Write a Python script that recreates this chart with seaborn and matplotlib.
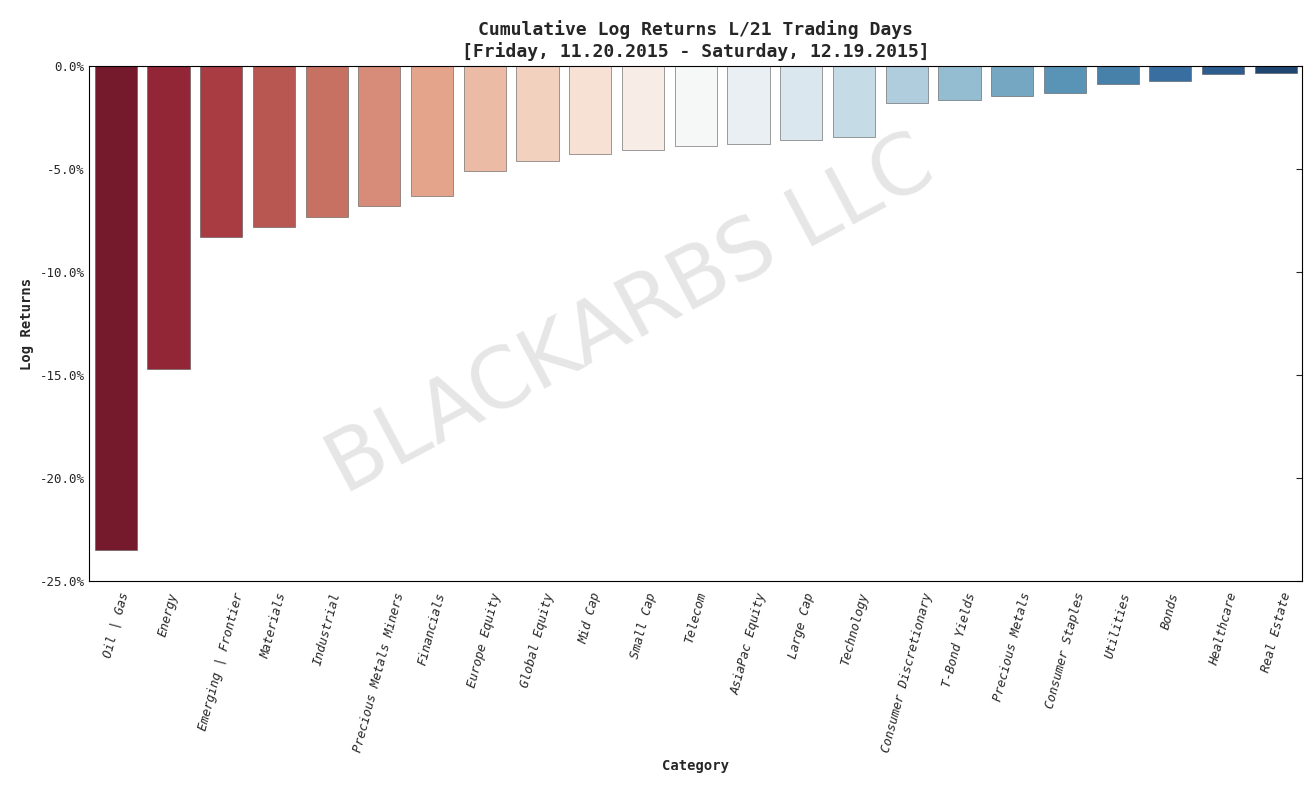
import numpy as np
import pandas as pd
import matplotlib
matplotlib.use('Agg')
import matplotlib.pyplot as plt
import seaborn as sns
from matplotlib.ticker import FuncFormatter

categories = ['Oil | Gas', 'Energy', 'Emerging | Frontier', 'Materials', 'Industrial',
              'Precious Metals Miners', 'Financials', 'Europe Equity', 'Global Equity',
              'Mid Cap', 'Small Cap', 'Telecom', 'AsiaPac Equity', 'Large Cap', 'Technology',
              'Consumer Discretionary', 'T-Bond Yields', 'Precious Metals', 'Consumer Staples',
              'Utilities', 'Bonds', 'Healthcare', 'Real Estate']
returns = [-0.235, -0.147, -0.083, -0.078, -0.0733, -0.068, -0.063, -0.051, -0.046,
           -0.043, -0.0408, -0.039, -0.038, -0.036, -0.0345, -0.018, -0.0165, -0.0146,
           -0.013, -0.0087, -0.0073, -0.0039, -0.0034]

df = pd.DataFrame({'Category': categories, 'Log Returns': returns})

sns.set_style('white')
plt.rcParams['font.family'] = ['DejaVu Sans Mono']

fig, ax = plt.subplots(figsize=(13.14, 7.92), dpi=100)
sns.barplot(data=df, x='Category', y='Log Returns', hue='Category', legend=False,
            palette=sns.color_palette('RdBu', len(categories)), ax=ax,
            edgecolor='#555555', linewidth=0.4)

ax.set_ylim(-0.25, 0)
ax.set_xlim(-0.5, len(categories) - 0.5)
ax.yaxis.set_major_formatter(FuncFormatter(lambda v, p: f'{v*100:.1f}%'))
ax.tick_params(axis='y', direction='in', right=True, labelsize=9, length=4)
ax.tick_params(axis='x', labelsize=9)
plt.setp(ax.get_xticklabels(), rotation=75, ha='center', style='italic')
for s in ax.spines.values():
    s.set_color('black')
    s.set_linewidth(0.8)

ax.set_xlabel('Category', fontsize=10, fontweight='bold')
ax.set_ylabel('Log Returns', fontsize=10, fontweight='bold')
ax.set_title('Cumulative Log Returns L/21 Trading Days\n[Friday, 11.20.2015 - Saturday, 12.19.2015]',
             fontsize=13, fontweight='bold')

fig.text(0.48, 0.6, 'BLACKARBS LLC', fontsize=60, color='gray', alpha=0.2,
         rotation=28, ha='center', va='center', family='DejaVu Sans')

fig.subplots_adjust(left=0.068, right=0.991, top=0.917, bottom=0.266)
fig.savefig('out.png', dpi=100)
